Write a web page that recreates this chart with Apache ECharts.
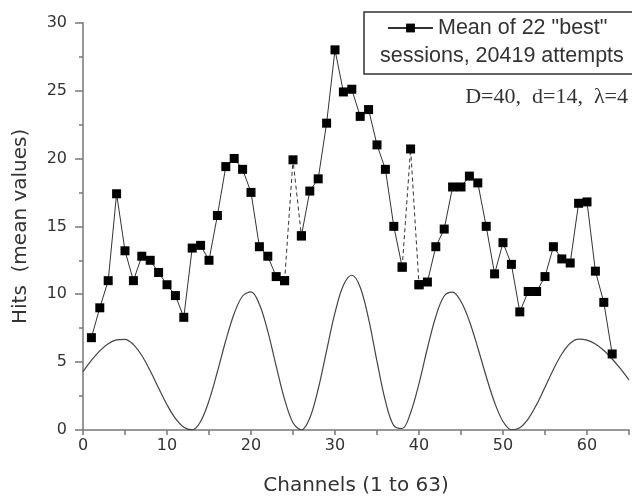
<!DOCTYPE html>
<html>
<head>
<meta charset="utf-8">
<script src="https://cdn.jsdelivr.net/npm/echarts@6/dist/echarts.min.js"></script>
<style>
  html, body { margin: 0; padding: 0; background: #fff; }
  #chart { width: 632px; height: 501px; }
</style>
</head>
<body>
<div id="chart"></div>
<script>
// Measured hits per channel (mean of 22 best sessions)
const channels = [1, 2, 3, 4, 5, 6, 7, 8, 9, 10, 11, 12, 13, 14, 15, 16, 17, 18, 19, 20,
  21, 22, 23, 24, 25, 26, 27, 28, 29, 30, 31, 32, 33, 34, 35, 36, 37, 38, 39, 40,
  41, 42, 43, 44, 45, 46, 47, 48, 49, 50, 51, 52, 53, 54, 55, 56, 57, 58, 59, 60,
  61, 62, 63];
const hits = [6.8, 9.0, 11.0, 17.4, 13.2, 11.0, 12.8, 12.5, 11.6, 10.7,
  9.9, 8.3, 13.4, 13.6, 12.5, 15.8, 19.4, 20.0, 19.2, 17.5,
  13.5, 12.8, 11.3, 11.0, 19.9, 14.3, 17.6, 18.5, 22.6, 28.0,
  24.9, 25.1, 23.1, 23.6, 21.0, 19.2, 15.0, 12.0, 20.7, 10.7,
  10.9, 13.5, 14.8, 17.9, 17.9, 18.7, 18.2, 15.0, 11.5, 13.8,
  12.2, 8.7, 10.2, 10.2, 11.3, 13.5, 12.6, 12.3, 16.7, 16.8,
  11.7, 9.4, 5.6];
// Channels whose neighbouring segments are drawn dashed
const dashedChannels = [25, 39];

// Expected interference pattern (D=40, d=14, lambda=4)
const patternX = [0, 1, 2, 3, 4, 5, 6, 7, 8, 9, 10, 11, 12, 13, 14, 15, 16, 17, 18, 19,
  20, 21, 22, 23, 24, 25, 26, 27, 28, 29, 30, 31, 32, 33, 34, 35, 36, 37, 38, 39,
  40, 41, 42, 43, 44, 45, 46, 47, 48, 49, 50, 51, 52, 53, 54, 55, 56, 57, 58, 59,
  60, 61, 62, 63, 64, 65];
const patternY = [4.30, 5.13, 5.83, 6.35, 6.64, 6.68, 6.29, 5.49, 4.36, 3.09,
  1.86, 0.85, 0.20, 0.01, 0.63, 2.16, 4.29, 6.59, 8.58, 9.87,
  10.17, 9.26, 7.26, 4.71, 2.25, 0.54, 0.01, 0.89, 3.02, 5.84,
  8.64, 10.66, 11.40, 10.52, 8.18, 5.06, 2.14, 0.32, 0.11, 1.27,
  3.42, 6.02, 8.36, 9.87, 10.16, 9.46, 8.01, 6.06, 3.94, 2.02,
  0.63, 0.02, 0.17, 0.82, 1.87, 3.15, 4.46, 5.60, 6.39, 6.70,
  6.62, 6.33, 5.86, 5.23, 4.50, 3.69];

const xTicks = [0, 10, 20, 30, 40, 50, 60];
const yTicks = [0, 5, 10, 15, 20, 25, 30];

const FONT = 'DejaVu Sans';
const LEGEND_FONT = 'Liberation Sans';
const TEXT = '#333';
const AXIS = '#777';
const LEGEND_NAME = 'Mean of 22 "best"';

const solidData = channels.map((c, i) =>
  dashedChannels.includes(c) ? [c, '-'] : [c, hits[i]]);
const dashedData = channels.map((c, i) =>
  dashedChannels.some(d => Math.abs(d - c) <= 1) ? [c, hits[i]] : [c, '-']);
const patternData = patternX.map((x, i) => [x, patternY[i]]);

const chart = echarts.init(document.getElementById('chart'), null, { renderer: 'canvas' });
chart.setOption({
  animation: false,
  backgroundColor: '#fff',
  grid: { left: 83, right: 1.7, top: 22.7, bottom: 70, containLabel: false },
  xAxis: {
    type: 'value', min: 0, max: 65, interval: 5,
    name: 'Channels (1 to 63)', nameLocation: 'middle', nameGap: 46,
    nameTextStyle: { fontFamily: FONT, fontSize: 20, color: TEXT },
    axisLine: { show: true, lineStyle: { color: AXIS, width: 1.5 } },
    axisTick: { show: true, length: 5, lineStyle: { color: AXIS, width: 1.5 } },
    axisLabel: {
      margin: 8, fontFamily: FONT, fontSize: 16, color: TEXT,
      formatter: v => (xTicks.includes(v) ? String(v) : '')
    },
    splitLine: { show: false }
  },
  yAxis: {
    type: 'value', min: 0, max: 30, interval: 5,
    name: 'Hits  (mean values)', nameLocation: 'middle', nameGap: 52,
    nameTextStyle: { fontFamily: FONT, fontSize: 20, color: TEXT },
    axisLine: { show: true, lineStyle: { color: AXIS, width: 1.5 } },
    axisTick: { show: true, length: 8, lineStyle: { color: AXIS, width: 1.5 } },
    minorTick: { show: true, splitNumber: 2, length: 4, lineStyle: { color: AXIS, width: 1.5 } },
    axisLabel: {
      margin: 16, fontFamily: FONT, fontSize: 16, color: TEXT,
      formatter: v => (yTicks.includes(v) ? String(v) : '')
    },
    splitLine: { show: false },
    minorSplitLine: { show: false }
  },
  legend: {
    data: [LEGEND_NAME],
    selectedMode: false,
    left: 387, top: 17, padding: 0,
    itemWidth: 45, itemHeight: 11,
    textStyle: { fontFamily: LEGEND_FONT, fontSize: 21.5, color: TEXT, lineHeight: 22 }
  },
  graphic: [
    {
      type: 'rect', silent: true, z: 10,
      shape: { x: 364, y: 12, width: 300, height: 62 },
      style: { fill: 'none', stroke: '#333', lineWidth: 1.5 }
    },
    {
      type: 'text', silent: true, z: 10, x: 380, y: 56,
      style: { text: 'sessions, 20419 attempts', font: '21.5px "Liberation Sans"', fill: TEXT, verticalAlign: 'middle' }
    },
    {
      type: 'text', silent: true, z: 10, x: 628, y: 97,
      style: { text: 'D=40,  d=14,  \u03BB=4', font: '22px "Liberation Serif"', fill: TEXT, align: 'right', verticalAlign: 'middle' }
    }
  ],
  series: [
    {
      name: 'pattern', type: 'line', data: patternData,
      symbol: 'none', smooth: 0.35, z: 2,
      lineStyle: { color: '#444', width: 1.2 }
    },
    {
      name: LEGEND_NAME, type: 'line', data: solidData,
      symbol: 'rect', symbolSize: 9, connectNulls: false, z: 3,
      itemStyle: { color: '#000' },
      lineStyle: { color: '#333', width: 1 }
    },
    {
      name: 'dashed', type: 'line', data: dashedData,
      symbol: 'rect', symbolSize: 9, connectNulls: false, z: 3,
      itemStyle: { color: '#000' },
      lineStyle: { color: '#333', width: 1, type: [4, 3] }
    }
  ]
});
</script>
</body>
</html>
